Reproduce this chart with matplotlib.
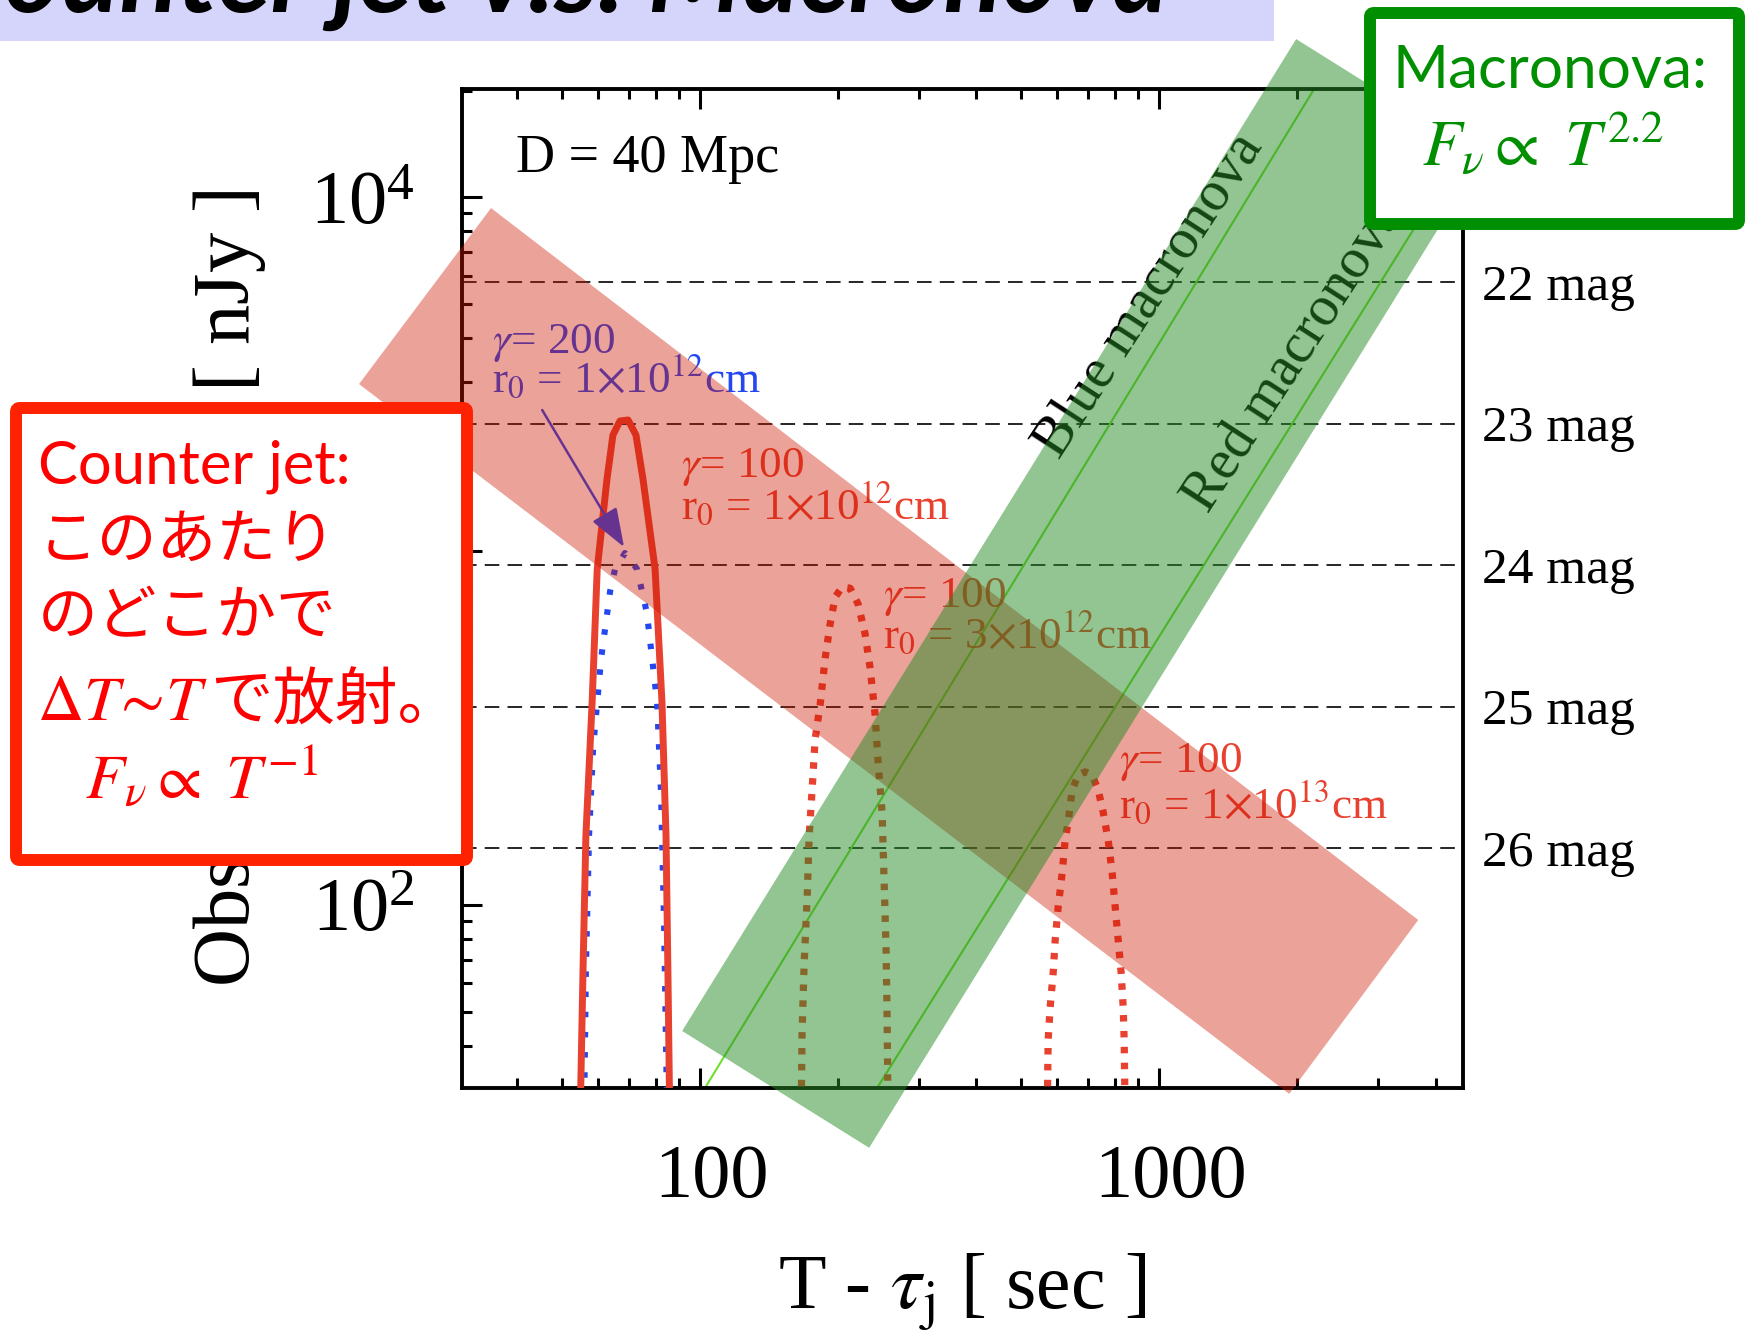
import numpy as np
import matplotlib
matplotlib.use("Agg")
import matplotlib.pyplot as plt
from matplotlib.patches import Polygon, FancyBboxPatch, Rectangle
from matplotlib.ticker import FixedLocator, FixedFormatter, FuncFormatter, NullLocator
from matplotlib.transforms import ScaledTranslation

plt.rcParams["font.family"] = ["Liberation Serif", "DejaVu Serif"]
plt.rcParams["mathtext.fontset"] = "stix"

W, H, DPI = 1747, 1343, 100

# light curves: T - tau_j [s], observed flux [nJy]
g100_r1e12_T = [54.8, 55.6, 56.4, 58.2, 59.7, 62.7, 64.6, 66.9, 69.7, 72.5, 75.1, 79.8, 82.6, 84.3, 85.1, 85.9]
g100_r1e12_F = [25, 65.5, 156.6, 374.6, 889.6, 1597, 2127, 2330, 2345, 2127, 1597, 890, 375, 157, 65.5, 25]

g200_r1e12_T = [55.9, 56.4, 57.3, 58.5, 60.9, 63.7, 65.3, 68.6, 72.9, 76.6, 80.6, 82.2, 83.5, 84.8]
g200_r1e12_F = [25, 65.5, 156.6, 279.5, 498.7, 770.9, 889.6, 987, 889.6, 668, 374.6, 208.5, 87.2, 25]

g100_r3e12_T = [166.0, 166.8, 168.5, 171.1, 172.8, 175.4, 178.1, 182.6, 187.3, 192.0, 196.9, 203.9,
                212.3, 220.9, 228.8, 234.6, 240.6, 244.3, 249.2, 251.7, 254.2, 255.5, 256.8]
g100_r3e12_F = [25, 43.5, 67.7, 104.7, 155.6, 211.3, 294.4, 367.3, 498.7, 622.1, 741, 791,
                785, 708.7, 582.8, 467.2, 344.1, 251.8, 181.9, 116.9, 75.1, 48.6, 25]

g100_r1e13_T = [570.2, 573.1, 578.9, 587.7, 593.6, 602.6, 614.8, 624.1, 633.5, 646.4, 666.1, 690.0,
                714.5, 736.4, 755.1, 774.3, 790.0, 802.0, 814.2, 826.5, 834.9, 839.0, 843.3]
g100_r1e13_F = [25, 41.6, 51.5, 64.3, 79.6, 98.7, 123.1, 152.6, 171.6, 211.3, 232.9, 237.8,
                232.9, 211.3, 183.1, 152.6, 123.1, 98.7, 79.6, 64.3, 51.5, 41.6, 25]

# macronova power laws
blue_mn_T = [102.5, 2175]
blue_mn_F = [30.4, 20190]
red_mn_T = [243, 4596]
red_mn_F = [30.4, 13600]

# shaded regions (corners in T, F)
counter_band_T = [35.05, 18.08, 1920, 3667]
counter_band_F = [9310, 2963, 29.25, 90.7]
macronova_band_T = [91.4, 233.5, 5079, 1988]
macronova_band_F = [44.06, 20.6, 13055, 27950]

# AB magnitude reference lines
mags = [22, 23, 24, 25, 26]
mag_flux = [3631e9 * 10 ** (-0.4 * m) for m in mags]

x_major = [100, 1000]
x_minor = [40, 50, 60, 70, 80, 90, 200, 300, 400, 500, 600, 700, 800, 900, 2000, 3000, 4000]
y_major = [100, 1000, 10000]
y_minor = [40, 50, 60, 70, 80, 90, 200, 300, 400, 500, 600, 700, 800, 900,
           2000, 3000, 4000, 5000, 6000, 7000, 8000, 9000, 20000]

RED = "#E8412F"
BLUE = "#2348F0"
LIME = "#6EE02A"
BOX_RED = "#FF2200"
TXT_RED = "#FF0000"
GREEN = "#008F00"

fig = plt.figure(figsize=(W / DPI, H / DPI), dpi=DPI)
ax = fig.add_axes([462 / W, 1 - 1088 / H, (1463 - 462) / W, (1088 - 89) / H])
ax.set_xscale("log")
ax.set_yscale("log")
ax.set_xlim(30.3, 4590)
ax.set_ylim(30.4, 20200)

for f in mag_flux:
    ax.axhline(f, color="0.15", lw=1.4, ls=(0, (7.5, 4.2)), zorder=1)

ax.plot(blue_mn_T, blue_mn_F, color=LIME, lw=1.5, zorder=2)
ax.plot(red_mn_T, red_mn_F, color=LIME, lw=1.5, zorder=2)

ax.plot(g200_r1e12_T, g200_r1e12_F, color=BLUE, lw=4.4, ls=(0, (0.9, 2.4)), zorder=3)
ax.plot(g100_r1e12_T, g100_r1e12_F, color=RED, lw=5, zorder=4)
ax.plot(g100_r3e12_T, g100_r3e12_F, color=RED, lw=5.2, ls=(0, (0.9, 1.3)), zorder=3)
ax.plot(g100_r1e13_T, g100_r1e13_F, color=RED, lw=5.2, ls=(0, (0.9, 1.3)), zorder=3)


def model_label(t, f1, f2, gamma, r0, color):
    ax.text(t, f1, r"$\gamma$= " + gamma, color=color, fontsize=32.5, va="baseline")
    ax.text(t, f2, r"r$_0$ = " + r0 + "cm", color=color, fontsize=32.5, va="baseline")


model_label(35.2, 3625, 2813, "200", r"1$\times$10$^{12}$", BLUE)
model_label(90.9, 1618, 1224, "100", r"1$\times$10$^{12}$", RED)
model_label(250.5, 695, 532, "100", r"3$\times$10$^{12}$", RED)
model_label(818, 237.5, 176, "100", r"1$\times$10$^{13}$", RED)

ax.annotate("", xy=(68.3, 1026), xytext=(45.3, 2502),
            arrowprops=dict(arrowstyle="-|>,head_length=0.6,head_width=0.22", color=BLUE,
                            lw=1.8, mutation_scale=40, shrinkA=0, shrinkB=0), zorder=5)

ax.text(605, 1808, "Blue macronova", rotation=57, rotation_mode="anchor",
        ha="left", va="baseline", fontsize=41)
ax.text(1279, 1272, "Red macronova", rotation=57, rotation_mode="anchor",
        ha="left", va="baseline", fontsize=41)

ax.text(0.054, 0.917, "D = 40 Mpc", transform=ax.transAxes, fontsize=39, va="baseline")

# translucent bands on top of the curves
ax.add_patch(Polygon(np.column_stack([counter_band_T, counter_band_F]), closed=True,
                     fc=(0.80, 0.09, 0.0), alpha=0.4, ec="none", clip_on=False, zorder=10))
ax.add_patch(Polygon(np.column_stack([macronova_band_T, macronova_band_F]), closed=True,
                     fc=(0.15, 0.55, 0.15), alpha=0.5, ec="none", clip_on=False, zorder=11))

ax.xaxis.set_major_locator(FixedLocator(x_major))
ax.xaxis.set_minor_locator(FixedLocator(x_minor))
ax.xaxis.set_major_formatter(FuncFormatter(lambda v, p: f"{v:.0f}"))
ax.yaxis.set_major_locator(FixedLocator(y_major))
ax.yaxis.set_minor_locator(FixedLocator(y_minor))
ax.tick_params(which="both", direction="in", top=True, bottom=True, left=True, right=False, width=2.2)
ax.tick_params(which="major", length=14.5)
ax.tick_params(which="minor", length=7.2)
ax.tick_params(axis="x", which="major", labelsize=55, pad=40)
ax.tick_params(axis="y", which="major", labelsize=55, pad=34)
for s in ax.spines.values():
    s.set_linewidth(2.8)

shift = ScaledTranslation(0.11, 0, fig.dpi_scale_trans)
for lab in ax.get_xticklabels():
    lab.set_transform(lab.get_transform() + shift)

ax.set_xlabel(r"T - $\tau_{\rm j}$ [ sec ]", fontsize=56, labelpad=28)
ax.set_ylabel(r"Observed Flux $F_\nu$ [ nJy ]", fontsize=58, labelpad=30)

ax2 = ax.twinx()
ax2.set_yscale("log")
ax2.set_ylim(ax.get_ylim())
ax2.yaxis.set_major_locator(FixedLocator(mag_flux))
ax2.yaxis.set_major_formatter(FixedFormatter([f"{m} mag" for m in mags]))
ax2.yaxis.set_minor_locator(NullLocator())
ax2.tick_params(axis="y", length=0, pad=14, labelsize=37)
for s in ax2.spines.values():
    s.set_visible(False)

# slide overlay in pixel units
ov = fig.add_axes([0, 0, 1, 1], zorder=5)
ov.set_xlim(0, W)
ov.set_ylim(H, 0)
ov.axis("off")
ov.patch.set_alpha(0)

ov.add_patch(Rectangle((0, 0), 1274, 41, fc="#D5D5FB", ec="none"))
ov.text(1169, 12, "Counter jet v.s. Macronova", family="Lato", fontsize=78,
        fontweight="bold", fontstyle="italic", ha="right", va="baseline")

ov.add_patch(FancyBboxPatch((16, 408), 451, 452, boxstyle="round,pad=0,rounding_size=4",
                            lw=8.6, ec=BOX_RED, fc="white"))
cjk = ["Noto Sans CJK JP", "DejaVu Sans"]
ov.text(38, 483, "Counter jet:", family="Lato", fontsize=43, color=TXT_RED, va="baseline")
ov.text(38, 558, "このあたり", family=cjk, fontsize=43, color=TXT_RED, va="baseline")
ov.text(38, 634, "のどこかで", family=cjk, fontsize=43, color=TXT_RED, va="baseline")
ov.text(37, 720, r"$\Delta T\!\sim\! T$", fontsize=46, color=TXT_RED, va="baseline")
ov.text(210, 720, "で放射。", family=cjk, fontsize=45, color=TXT_RED, va="baseline")
ov.text(85, 798, r"$F_\nu \propto\ T^{-1}$", fontsize=46, color=TXT_RED, va="baseline")

ov.add_patch(FancyBboxPatch((1370, 13), 369, 211, boxstyle="round,pad=0,rounding_size=4",
                            lw=8.6, ec=GREEN, fc="white"))
ov.text(1393, 88, "Macronova:", family="Lato", fontsize=43.5, color=GREEN, va="baseline")
ov.text(1422, 165, r"$F_\nu \propto\ T^{2.2}$", fontsize=46.5, color=GREEN, va="baseline")

fig.savefig("out.png", dpi=DPI)
